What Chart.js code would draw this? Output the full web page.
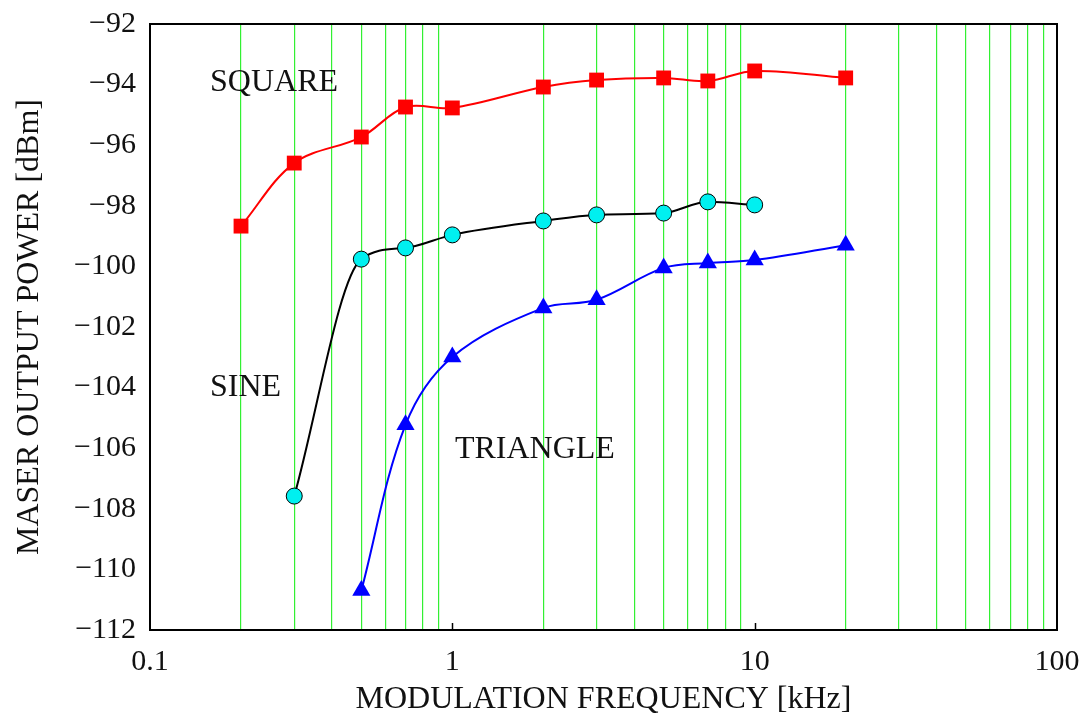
<!DOCTYPE html>
<html>
<head>
<meta charset="utf-8">
<script src="https://cdn.jsdelivr.net/npm/chart.js@4.4.0/dist/chart.umd.min.js"></script>
<style>
  html, body { margin: 0; padding: 0; background: #fff; }
  #wrap { width: 1088px; height: 727px; }
</style>
</head>
<body>
<div id="wrap"><canvas id="powerChart" width="1088" height="727"></canvas></div>
<script>
// modulation frequency in kHz
const squareFreq = [0.2, 0.3, 0.5, 0.7, 1, 2, 3, 5, 7, 10, 20];
const squarePower = [-98.67, -96.59, -95.73, -94.74, -94.77, -94.08, -93.85, -93.78, -93.88, -93.55, -93.78];

const sineFreq = [0.3, 0.5, 0.7, 1, 2, 3, 5, 7, 10];
const sinePower = [-107.58, -99.76, -99.39, -98.96, -98.5, -98.3, -98.24, -97.87, -97.97];

const triangleFreq = [0.5, 0.7, 1, 2, 3, 5, 7, 10, 20];
const trianglePower = [-110.7, -105.23, -102.99, -101.37, -101.1, -100.05, -99.89, -99.79, -99.3];

// text notes placed in data units (left edge, vertical middle)
const noteText = ['SQUARE', 'SINE', 'TRIANGLE'];
const noteFreq = [0.158, 0.158, 1.02];
const notePower = [-93.95, -104.0, -106.06];

const xTickLabels = [0.1, 1, 10, 100];

const serif = '"Liberation Serif", "Times New Roman", serif';

function toPoints(xs, ys) {
  return xs.map((x, i) => ({ x: x, y: ys[i] }));
}

function isDecade(v) {
  const l = Math.log10(v);
  return Math.abs(l - Math.round(l)) < 1e-6;
}

// 2..9 times a power of ten, but not 1.5, 15...
function isMinor(v) {
  const m = v / Math.pow(10, Math.floor(Math.log10(v) + 1e-9));
  return Math.abs(m - Math.round(m)) < 1e-6 && !isDecade(v);
}

// frame, decade ticks and text notes
const extrasPlugin = {
  id: 'extras',
  beforeDatasetsDraw(chart) {
    const ctx = chart.ctx;
    const xs = chart.scales.x;
    const area = chart.chartArea;
    ctx.save();
    ctx.strokeStyle = '#000';
    ctx.lineWidth = 1.5;
    [1, 10].forEach(v => {
      const px = Math.round(xs.getPixelForValue(v)) + 0.5;
      ctx.beginPath();
      ctx.moveTo(px, area.bottom);
      ctx.lineTo(px, area.bottom - 7);
      ctx.stroke();
    });
    ctx.restore();
  },
  afterDraw(chart) {
    const ctx = chart.ctx;
    const xs = chart.scales.x;
    const ys = chart.scales.y;
    const area = chart.chartArea;
    ctx.save();
    ctx.strokeStyle = '#000';
    ctx.lineWidth = 2;
    ctx.strokeRect(area.left, area.top, area.right - area.left, area.bottom - area.top);

    ctx.fillStyle = '#111';
    ctx.font = '32px ' + serif;
    ctx.textAlign = 'left';
    ctx.textBaseline = 'middle';
    noteText.forEach((t, i) => {
      ctx.fillText(t, xs.getPixelForValue(noteFreq[i]), ys.getPixelForValue(notePower[i]));
    });
    ctx.restore();
  }
};

var ctx = document.getElementById('powerChart').getContext('2d');

var chart = new Chart(ctx, {
  type: 'line',
  data: {
    datasets: [
      {
        label: 'SQUARE',
        data: toPoints(squareFreq, squarePower),
        borderColor: '#ff0000',
        backgroundColor: '#ff0000',
        borderWidth: 2,
        pointStyle: 'rect',
        pointRadius: 10.5,
        pointBorderWidth: 0,
        tension: 0.35
      },
      {
        label: 'SINE',
        data: toPoints(sineFreq, sinePower),
        borderColor: '#000000',
        backgroundColor: '#00f0f0',
        pointBackgroundColor: '#00f0f0',
        pointBorderColor: '#000000',
        borderWidth: 2,
        pointStyle: 'circle',
        pointRadius: 8,
        pointBorderWidth: 1,
        cubicInterpolationMode: 'monotone'
      },
      {
        label: 'TRIANGLE',
        data: toPoints(triangleFreq, trianglePower),
        borderColor: '#0000ff',
        backgroundColor: '#0000ff',
        borderWidth: 2,
        pointStyle: 'triangle',
        pointRadius: 10.5,
        pointBorderWidth: 0,
        tension: 0.35
      }
    ]
  },
  options: {
    responsive: false,
    animation: false,
    layout: { padding: { top: 24, right: 31, left: 0, bottom: 0 } },
    plugins: {
      legend: { display: false },
      tooltip: { enabled: false }
    },
    scales: {
      x: {
        type: 'logarithmic',
        min: 0.1,
        max: 100,
        border: { display: false },
        grid: {
          drawTicks: false,
          lineWidth: 1.2,
          color: (c) => {
            if (!c.tick) return 'rgba(0,0,0,0)';
            return isMinor(c.tick.value) ? 'rgb(50,240,50)' : 'rgba(0,0,0,0)';
          }
        },
        ticks: {
          autoSkip: false,
          maxRotation: 0,
          padding: 14,
          color: '#111',
          font: { family: serif, size: 30 },
          callback: (v) => xTickLabels.includes(Number(v)) ? String(v) : ''
        },
        title: {
          display: true,
          text: 'MODULATION FREQUENCY [kHz]',
          color: '#111',
          font: { family: serif, size: 32 },
          padding: { top: 0, bottom: 8 }
        },
        afterFit: (scale) => {
          scale.height = 97;
          scale.paddingLeft = 0;
          scale.paddingRight = 0;
        }
      },
      y: {
        min: -112,
        max: -92,
        border: { display: false },
        grid: { display: false, drawTicks: false },
        ticks: {
          stepSize: 2,
          padding: 14,
          color: '#111',
          font: { family: serif, size: 30 },
          callback: (v) => String(v).replace('-', '\u2212')
        },
        title: {
          display: true,
          text: 'MASER OUTPUT POWER [dBm]',
          color: '#111',
          font: { family: serif, size: 32 },
          padding: { top: 10, bottom: 10 }
        },
        afterFit: (scale) => {
          scale.width = 150;
          scale.paddingTop = 0;
          scale.paddingBottom = 0;
        }
      }
    }
  },
  plugins: [extrasPlugin]
});
</script>
</body>
</html>
